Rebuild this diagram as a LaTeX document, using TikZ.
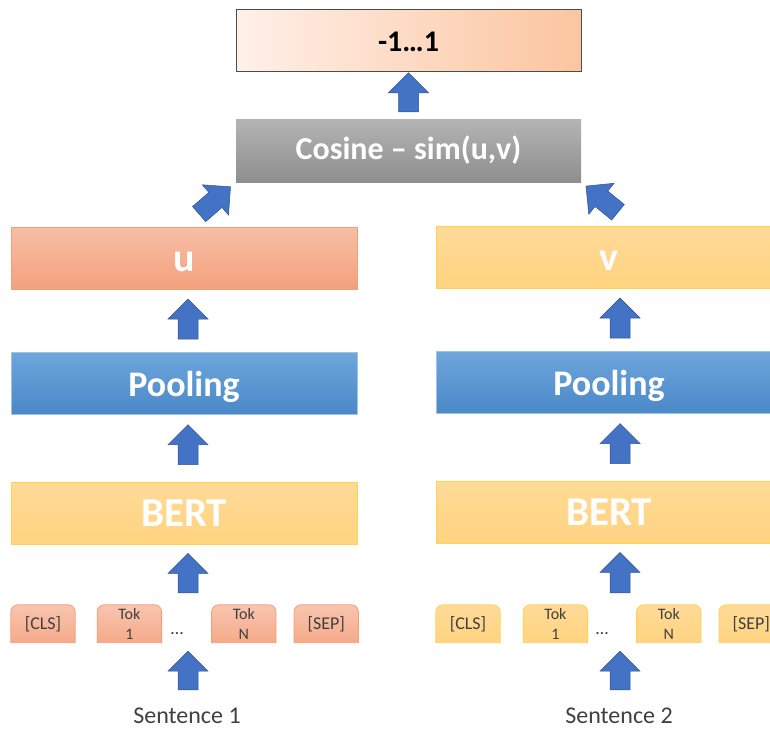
\documentclass[tikz,border=0pt]{standalone}
\usepackage{fontspec}
\setmainfont{Carlito}
\usetikzlibrary{calc,positioning,backgrounds}
\definecolor{arrowblue}{HTML}{4472C4}
\definecolor{arrowedge}{HTML}{2F528F}
\definecolor{outlo}{HTML}{FFF0E8}
\definecolor{outhi}{HTML}{FBC5A0}
\definecolor{costop}{HTML}{B4B4B4}
\definecolor{cosbot}{HTML}{8E8E8E}
\definecolor{utop}{HTML}{F7BEA6}
\definecolor{ubot}{HTML}{F4A07C}
\definecolor{uedge}{HTML}{F2A07A}
\definecolor{pooltop}{HTML}{6EA6DC}
\definecolor{poolbot}{HTML}{4A88C7}
\definecolor{pooledge}{HTML}{9DC3E6}
\definecolor{berttop}{HTML}{FFDA98}
\definecolor{bertbot}{HTML}{FFD480}
\definecolor{bertedge}{HTML}{FFD34D}
\definecolor{tokink}{HTML}{404040}

\tikzset{
  layer/.style={minimum width=346pt,minimum height=62pt,inner sep=0pt,text=white,
    text height=26pt,text depth=0pt},
  orangefill/.style={top color=utop,bottom color=ubot,draw=uedge,line width=0.8pt},
  bluefill/.style={top color=pooltop,bottom color=poolbot,draw=pooledge,line width=0.6pt},
  yellowfill/.style={top color=berttop,bottom color=bertbot,draw=bertedge,line width=0.8pt},
  token/.style={minimum width=64pt,minimum height=38pt,inner sep=0pt,align=center,
    text=tokink,font=\fontsize{16}{20}\selectfont},
  % fat arrow: #1 = gap at the start, #2 = gap at the tip (pt)
  blockarrow/.style 2 args={fill=arrowblue,draw=arrowedge,line width=0.5pt,
    to path={let \p1=($(\tikztotarget)-(\tikztostart)$),
      \n1={atan2(\y1,\x1)}, \n2={veclen(\x1,\y1)} in
      {[shift={(\tikztostart)},rotate=\n1]
        (#1pt,10pt) -- ({(\n2-#2-20)*1pt},10pt) -- ({(\n2-#2-20)*1pt},20pt)
        -- ({(\n2-#2)*1pt},0pt) -- ({(\n2-#2-20)*1pt},-20pt)
        -- ({(\n2-#2-20)*1pt},-10pt) -- (#1pt,-10pt) -- cycle}}},
}

\begin{document}
\begin{tikzpicture}[x=1pt,y=-1pt]
  \clip (0,0) rectangle (770,729);
  \coordinate (col1) at (188,0);
  \coordinate (col2) at (620,0);

  % left branch
  \node[layer,yellowfill,font=\fontsize{41}{44}\selectfont\bfseries] (bert1) at (184,513) {BERT};
  \node[layer,bluefill,above=67pt of bert1,font=\fontsize{36}{40}\selectfont\bfseries] (pool1) {Pooling};
  \node[layer,orangefill,above=62pt of pool1,font=\fontsize{40}{44}\selectfont\bfseries] (u) {u};

  % right branch
  \node[layer,yellowfill,font=\fontsize{41}{44}\selectfont\bfseries] (bert2) at (609,512) {BERT};
  \node[layer,bluefill,above=67pt of bert2,font=\fontsize{36}{40}\selectfont\bfseries] (pool2) {Pooling};
  \node[layer,yellowfill,above=62pt of pool2,font=\fontsize{40}{44}\selectfont\bfseries] (v) {v};

  % similarity and score
  \node[minimum width=345pt,minimum height=63pt,inner sep=0pt,text=white,
    top color=costop,bottom color=cosbot,font=\fontsize{32}{36}\selectfont\bfseries] (cos) at (408.5,150.5) {Cosine – sim(u,v)};
  \node[minimum width=345pt,minimum height=62pt,inner sep=0pt,above=47pt of cos,
    left color=outlo,right color=outhi,draw=black!70,line width=0.7pt,
    text height=22pt,text depth=0pt,font=\fontsize{30}{34}\selectfont\bfseries] (out) {-1…1};

  % token rows
  \node[token,font=\fontsize{18}{20}\selectfont] (cls1) at (43,624) {[CLS]};
  \node[token,right=22pt of cls1] (tok1) {Tok\\1};
  \node[token,right=50pt of tok1] (tokn1) {Tok\\N};
  \node[token,right=18pt of tokn1,font=\fontsize{18}{20}\selectfont] (sep1) {[SEP]};
  \node[anchor=base,text=tokink,font=\fontsize{18}{20}\selectfont] (dots1) at (177,634) {…};

  \node[token,font=\fontsize{18}{20}\selectfont] (cls2) at (468,624) {[CLS]};
  \node[token,right=23pt of cls2] (tok2) {Tok\\1};
  \node[token,right=49pt of tok2] (tokn2) {Tok\\N};
  \node[token,right=18pt of tokn2,font=\fontsize{18}{20}\selectfont] (sep2) {[SEP]};
  \node[anchor=base,text=tokink,font=\fontsize{18}{20}\selectfont] (dots2) at (602,634) {…};

  \begin{scope}[on background layer]
    \foreach \t in {cls1,tok1,tokn1,sep1}
      \draw[top color=utop!90,bottom color=ubot!90,draw=uedge,line width=0.8pt]
        (\t.south west) [rounded corners=7pt] |- (\t.north) -| (\t.south east);
    \foreach \t in {cls2,tok2,tokn2,sep2}
      \draw[top color=berttop,bottom color=bertbot,draw=bertedge,line width=0.8pt]
        (\t.south west) [rounded corners=7pt] |- (\t.north) -| (\t.south east);
  \end{scope}

  \node[inner sep=0pt,text=tokink,font=\fontsize{24}{28}\selectfont] (sent1) at (187,716) {Sentence 1};
  \node[inner sep=0pt,text=tokink,font=\fontsize{24}{28}\selectfont] (sent2) at (619,716) {Sentence 2};

  % block arrows
  \draw[blockarrow={18}{8}] (sent1.north -| col1) to (tok1.south -| col1);
  \draw[blockarrow={12}{9}] (tok1.north -| col1) to (bert1.south -| col1);
  \draw[blockarrow={17}{10}] (bert1.north -| col1) to (pool1.south -| col1);
  \draw[blockarrow={13}{9}] (pool1.north -| col1) to (u.south -| col1);

  \draw[blockarrow={18}{8}] (sent2.north -| col2) to (tok2.south -| col2);
  \draw[blockarrow={12}{9}] (tok2.north -| col2) to (bert2.south -| col2);
  \draw[blockarrow={17}{10}] (bert2.north -| col2) to (pool2.south -| col2);
  \draw[blockarrow={13}{9}] (pool2.north -| col2) to (v.south -| col2);

  \draw[blockarrow={20}{7}] (u.north) to (cos.south west);
  \draw[blockarrow={22}{6}] ([xshift=26pt]v.north) to (cos.south east);
  \draw[blockarrow={7}{1}] (cos.north) to (out.south);
\end{tikzpicture}
\end{document}
